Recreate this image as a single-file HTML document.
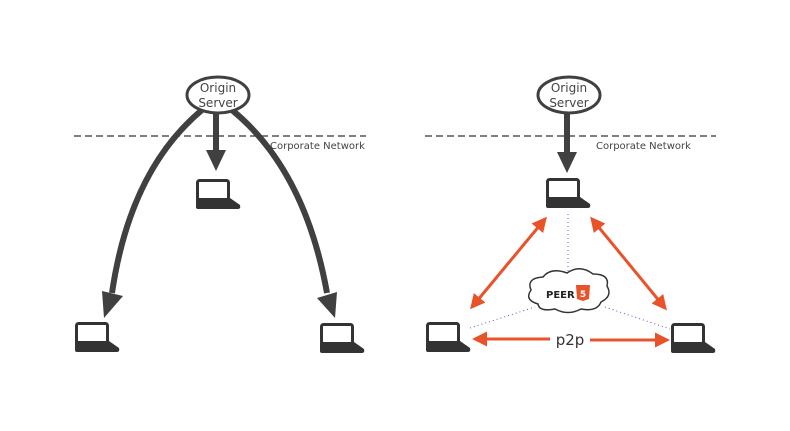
<!DOCTYPE html>
<html><head><style>body{margin:0;background:#fff}svg{display:block}</style></head><body>
<svg width="790" height="431" viewBox="0 0 790 431" xmlns="http://www.w3.org/2000/svg" font-family="DejaVu Sans, Liberation Sans, sans-serif">
<defs>
<g id="lap">
<rect x="1.5" y="1.5" width="31" height="19" rx="2" fill="#fff" stroke="#333" stroke-width="3"/>
<path d="M0 19 H34 L44 26 Q45 30 42 30 H2 Q0 30 0 28 Z" fill="#333"/>
</g>
<marker id="oa" markerWidth="5" markerHeight="5" refX="4" refY="2.5" orient="auto" markerUnits="strokeWidth"><path d="M0 0 L5 2.5 L0 5 Z" fill="#e8532a"/></marker>
<marker id="ob" markerWidth="5" markerHeight="5" refX="1" refY="2.5" orient="auto" markerUnits="strokeWidth"><path d="M5 0 L0 2.5 L5 5 Z" fill="#e8532a"/></marker>
</defs>
<!-- left diagram -->
<line x1="74" y1="136" x2="366" y2="136" stroke="#333" stroke-width="1.2" stroke-dasharray="7,4"/>
<text x="270" y="149" font-size="10" fill="#444">Corporate Network</text>
<path d="M202 110 Q130 170 112 293" fill="none" stroke="#404040" stroke-width="6"/>
<path d="M102 291 L123 296 L104 318 Z" fill="#404040"/>
<path d="M232 110 Q305 170 327 293" fill="none" stroke="#404040" stroke-width="6"/>
<path d="M317 298 L337 292 L335 318 Z" fill="#404040"/>
<line x1="216" y1="112" x2="216" y2="150" stroke="#404040" stroke-width="6"/>
<path d="M206 150 L226 150 L216 171 Z" fill="#404040"/>
<ellipse cx="218" cy="95" rx="31" ry="18" fill="#fff" stroke="#404040" stroke-width="3"/>
<text x="218" y="92" font-size="12" fill="#444" text-anchor="middle">Origin</text>
<text x="218" y="107" font-size="12" fill="#444" text-anchor="middle">Server</text>
<use href="#lap" x="196" y="179"/>
<use href="#lap" x="75" y="322"/>
<use href="#lap" x="320" y="323"/>
<!-- right diagram -->
<line x1="425" y1="136" x2="716" y2="136" stroke="#333" stroke-width="1.2" stroke-dasharray="7,4"/>
<text x="596" y="149" font-size="10" fill="#444">Corporate Network</text>
<line x1="567" y1="112" x2="567" y2="152" stroke="#404040" stroke-width="6"/>
<path d="M557 152 L577 152 L567 173 Z" fill="#404040"/>
<ellipse cx="569" cy="95" rx="31" ry="18" fill="#fff" stroke="#404040" stroke-width="3"/>
<text x="569" y="92" font-size="12" fill="#444" text-anchor="middle">Origin</text>
<text x="569" y="107" font-size="12" fill="#444" text-anchor="middle">Server</text>
<g stroke="#4a62d0" stroke-width="1" stroke-dasharray="1,3" fill="none">
<line x1="568" y1="214" x2="568" y2="272"/>
<line x1="470" y1="328" x2="535" y2="307"/>
<line x1="605" y1="307" x2="670" y2="329"/>
</g>
<g stroke="#e8532a" stroke-width="3" fill="none">
<line x1="472" y1="307" x2="545" y2="219" marker-start="url(#ob)" marker-end="url(#oa)"/>
<line x1="592" y1="219" x2="665" y2="308" marker-start="url(#ob)" marker-end="url(#oa)"/>
<line x1="475" y1="339" x2="550" y2="339" marker-start="url(#ob)"/>
<line x1="590" y1="340" x2="667" y2="340" marker-end="url(#oa)"/>
</g>
<text x="570" y="345" font-size="15" fill="#333" text-anchor="middle">p2p</text>
<g>
<path d="M538 304 Q524 300 531 290 Q526 278 543 277 Q551 267 567 273 Q580 264 593 274 Q610 274 607 286 Q613 296 601 302 Q597 312 581 309 Q568 316 555 309 Q539 312 538 304 Z" fill="#fff" stroke="#333" stroke-width="1.5"/>
<text x="546" y="298" font-size="10" font-weight="bold" fill="#222">PEER</text>
<path d="M576 285 H590 L589 299 L583 301 L577 299 Z" fill="#e8532a"/>
<text x="583" y="297" font-size="9" font-weight="bold" fill="#fff" text-anchor="middle">5</text>
</g>
<use href="#lap" x="546" y="178"/>
<use href="#lap" x="426" y="322"/>
<use href="#lap" x="671" y="323"/>
</svg>
</body></html>
